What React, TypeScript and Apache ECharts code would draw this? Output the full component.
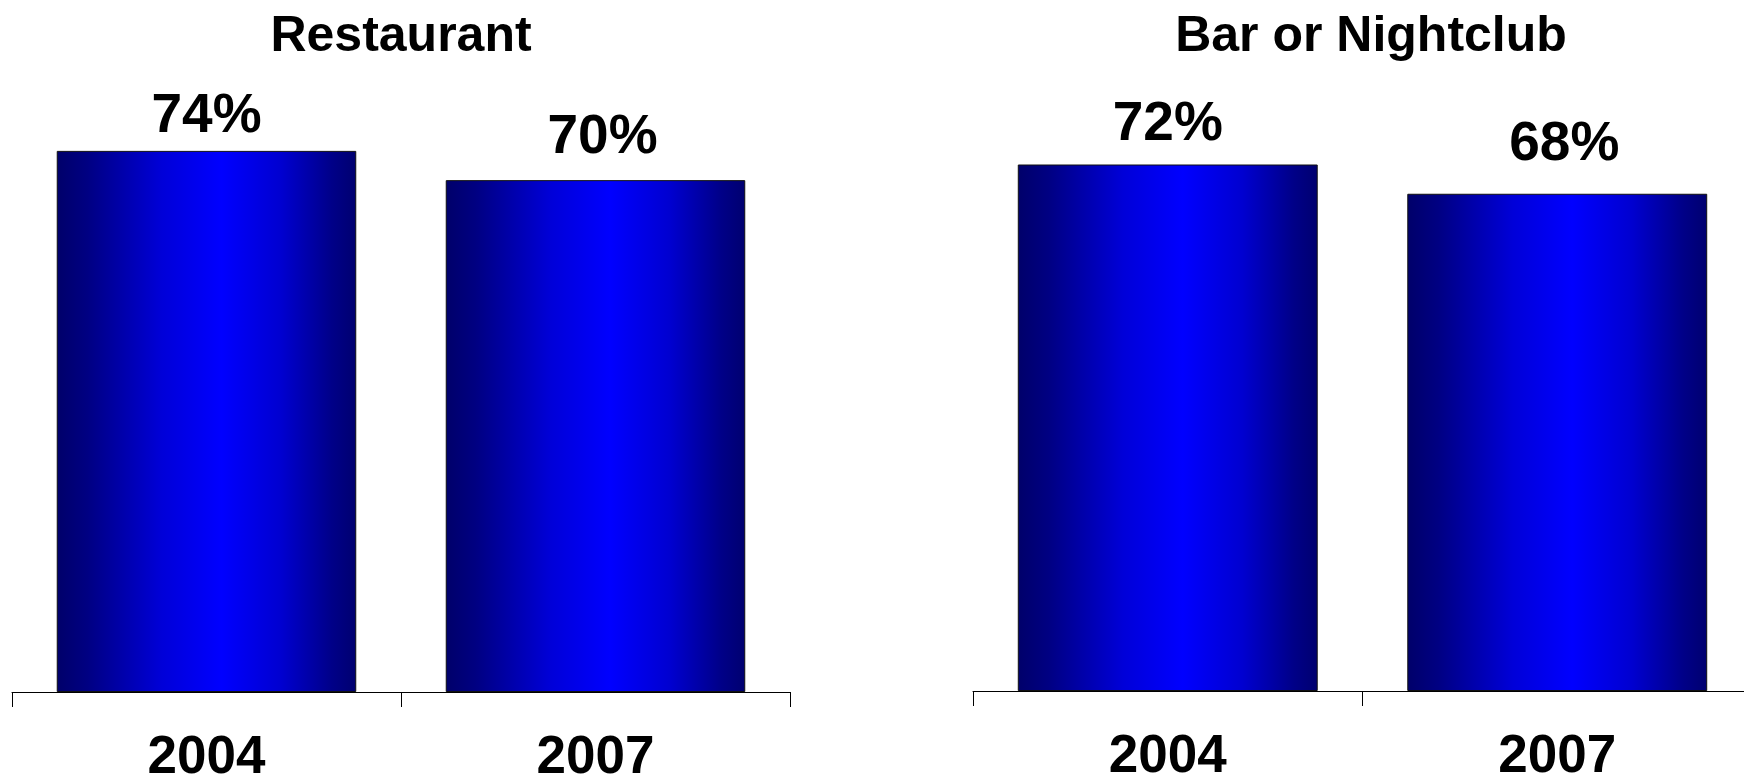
import React, { useEffect, useRef } from "react";
import * as echarts from "echarts";

// Survey share by venue, two survey years
const years = ["2004", "2007"];
const restaurantValues = [74, 70];
const barNightclubValues = [72, 68];
const panelTitles = ["Restaurant", "Bar or Nightclub"];

// Hand-placed nudges [dx, dy] for each value label, per panel
const restaurantLabelNudge = [[0, 0], [7, -9]];
const barNightclubLabelNudge = [[0, -6], [7, -15]];

const FONT = "'Liberation Sans', Arial, Helvetica, sans-serif";

const barGradient = new echarts.graphic.LinearGradient(0, 0, 1, 0, [
  { offset: 0, color: "#00006a" },
  { offset: 0.1, color: "#000082" },
  { offset: 0.35, color: "#0000d8" },
  { offset: 0.55, color: "#0000ff" },
  { offset: 0.75, color: "#0000d0" },
  { offset: 0.92, color: "#000088" },
  { offset: 1, color: "#000070" },
]);

function makeXAxis(gridIndex: number) {
  return {
    type: "category",
    gridIndex,
    data: years,
    boundaryGap: true,
    axisLine: { show: true, lineStyle: { color: "#000", width: 1 } },
    axisTick: { show: true, length: 15, lineStyle: { color: "#000", width: 1 } },
    axisLabel: {
      color: "#000",
      fontSize: 53,
      fontWeight: "bold",
      fontFamily: FONT,
      margin: 36,
    },
  };
}

function makeYAxis(gridIndex: number) {
  return {
    type: "value",
    gridIndex,
    min: 0,
    max: 80,
    show: false,
    splitLine: { show: false },
  };
}

function makeSeries(index: number, values: number[], nudges: number[][]) {
  return {
    type: "bar",
    xAxisIndex: index,
    yAxisIndex: index,
    data: values.map((v, i) => ({ value: v, label: { offset: nudges[i] } })),
    barCategoryGap: "23%",
    itemStyle: {
      color: barGradient,
      borderColor: "#111",
      borderWidth: 1,
    },
    label: {
      show: true,
      position: "top",
      distance: 10,
      formatter: "{c}%",
      color: "#000",
      fontSize: 55,
      fontWeight: "bold",
      fontFamily: FONT,
    },
  };
}

export default function App() {
  const ref = useRef<HTMLDivElement>(null);

  useEffect(() => {
    if (!ref.current) return;
    const chart = echarts.init(ref.current, null, { renderer: "svg" });
    chart.setOption({
      animation: false,
      backgroundColor: "#fff",
      title: [
        {
          text: panelTitles[0],
          left: 396,
          top: 4,
          textAlign: "center",
          textStyle: { color: "#000", fontSize: 50, fontWeight: "bold", fontFamily: FONT },
        },
        {
          text: panelTitles[1],
          left: 1366,
          top: 4,
          textAlign: "center",
          textStyle: { color: "#000", fontSize: 50, fontWeight: "bold", fontFamily: FONT },
        },
      ],
      grid: [
        { left: 12, width: 778, top: 107, bottom: 85, containLabel: false, outerBoundsMode: "none" },
        { left: 973, width: 779, top: 106, bottom: 86, containLabel: false, outerBoundsMode: "none" },
      ],
      xAxis: [makeXAxis(0), makeXAxis(1)],
      yAxis: [makeYAxis(0), makeYAxis(1)],
      series: [
        makeSeries(0, restaurantValues, restaurantLabelNudge),
        makeSeries(1, barNightclubValues, barNightclubLabelNudge),
      ],
    });
    return () => chart.dispose();
  }, []);

  return (
    <div
      ref={ref}
      style={{ position: "absolute", left: 0, top: 0, width: 1744, height: 777 }}
    />
  );
}
